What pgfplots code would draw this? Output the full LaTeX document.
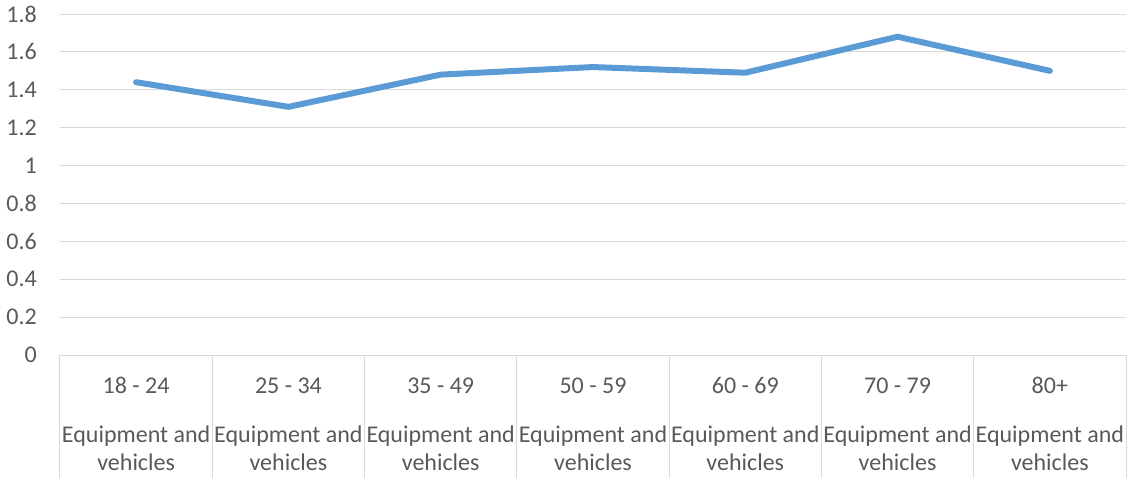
\documentclass[border=0pt]{standalone}
\usepackage{pgfplots}
\pgfplotsset{compat=1.18}
\usepackage{fontspec}
\setmainfont{Carlito}
\definecolor{txt}{HTML}{595959}
\definecolor{grd}{HTML}{D9D9D9}
\definecolor{ser}{HTML}{5B9BD5}
\begin{document}
\begin{tikzpicture}[x=0.75pt,y=0.75pt]
\useasboundingbox (-60,-128) rectangle (1069,355);
\begin{axis}[
  at={(0,0)}, anchor=south west,
  scale only axis, width=799.5pt, height=255.75pt,
  xmin=0, xmax=7, ymin=0, ymax=1.8,
  axis x line*=bottom, axis y line*=left,
  x axis line style={grd, line width=0.75pt, -},
  y axis line style={draw=none},
  ymajorgrids, grid style={grd, line width=0.75pt},
  major tick length=0pt,
  tick align=outside,
  ytick={0,0.2,0.4,0.6,0.8,1,1.2,1.4,1.6,1.8},
  ytick style={draw=none},
  /pgf/number format/assume math mode=true,
  yticklabel style={anchor=east, inner sep=0pt, xshift=-17.25pt,
    font=\fontsize{18}{21}\selectfont, text=txt},
  xtick={0.5,1.5,2.5,3.5,4.5,5.5,6.5},
  xticklabels={18 - 24,25 - 34,35 - 49,50 - 59,60 - 69,70 - 79,80+},
  xticklabel style={anchor=base, inner sep=0pt, yshift=-28.5pt, align=center,
    font=\fontsize{18}{21}\selectfont, text=txt},
  major x tick style={draw=none},
  minor xtick={0,1,2,3,4,5,6,7},
  minor tick length=92.25pt,
  minor x tick style={grd, line width=0.75pt},
  extra x ticks={0.5,1.5,2.5,3.5,4.5,5.5,6.5},
  extra x tick labels={{Equipment and\\vehicles},{Equipment and\\vehicles},{Equipment and\\vehicles},{Equipment and\\vehicles},{Equipment and\\vehicles},{Equipment and\\vehicles},{Equipment and\\vehicles}},
  extra x tick style={grid=none, major tick length=0pt,
    xticklabel style={yshift=-57.75pt}},
  clip=false,
]
\addplot[ser, line width=4.5pt, line cap=round, line join=round]
  coordinates {(0.5,1.44) (1.5,1.31) (2.5,1.48) (3.5,1.52) (4.5,1.49) (5.5,1.68) (6.5,1.50)};
\end{axis}
\end{tikzpicture}
\end{document}
